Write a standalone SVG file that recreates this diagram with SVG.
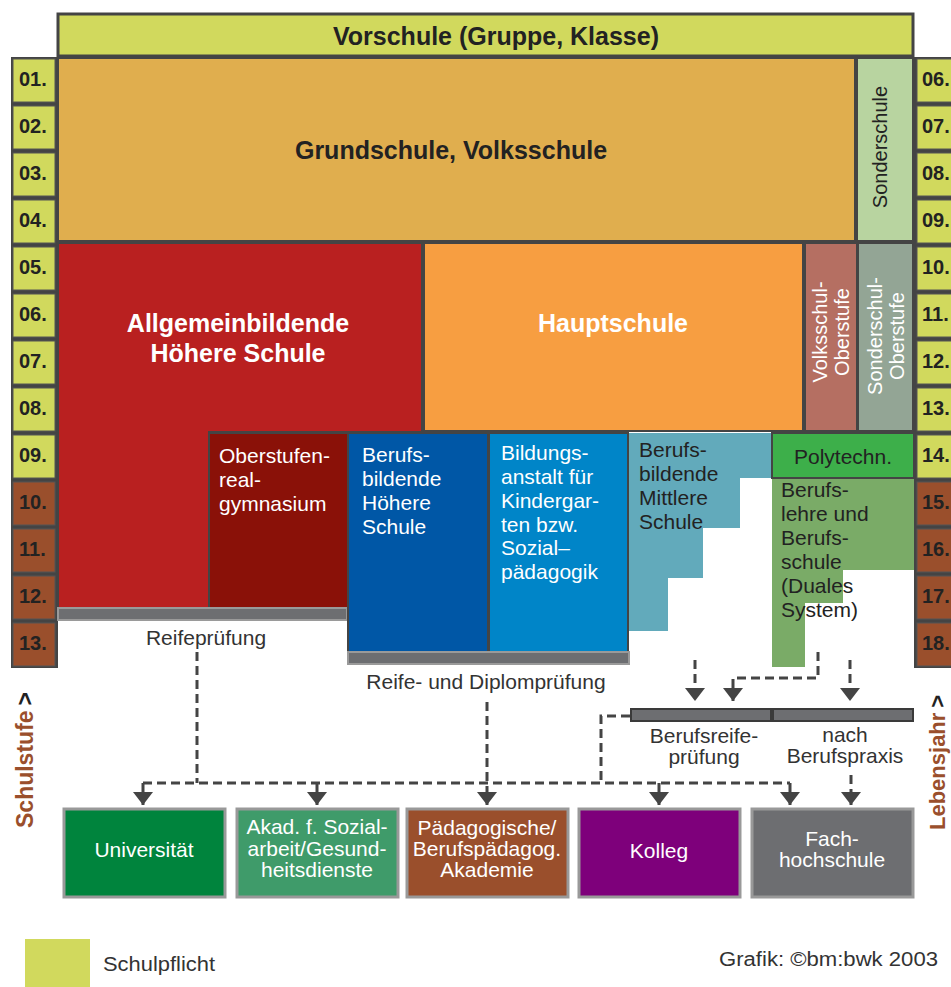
<svg xmlns="http://www.w3.org/2000/svg" width="951" height="987" viewBox="0 0 951 987">
<style>
text{font-family:"Liberation Sans",Arial,sans-serif}
.blk{stroke:#444;stroke-width:2}
.b{font-weight:bold}
.h{font-size:25px;font-weight:bold}
.w{fill:#fff}
.d{fill:#222}
.t{font-size:21px}
.num{font-size:20px;font-weight:bold;fill:#222}
.cy{fill:#d1d95d;stroke:#555;stroke-width:1}
.cb{fill:#9a4f2c;stroke:#555;stroke-width:1}
.bar{fill:#6d6e71;stroke:#9a9a9a;stroke-width:2}
.bar2{fill:#6d6e71;stroke:#3a3a3a;stroke-width:2}
.box{stroke:#999;stroke-width:3}
.c{fill:none;stroke:#444;stroke-width:3;stroke-dasharray:9 5}
.m{text-anchor:middle}
</style>
<defs>
<marker id="ah" viewBox="0 0 13 20" markerWidth="13" markerHeight="20" refX="13" refY="10" orient="auto" markerUnits="userSpaceOnUse">
<path d="M0,0 L13,10 L0,20 z" fill="#444"/>
</marker>
</defs>
<rect width="951" height="987" fill="#fff"/>

<g id="vorschule">
<rect x="58" y="14" width="855" height="42" fill="#d1d95d" stroke="#444" stroke-width="3"/>
<text x="496" y="45" class="h m d">Vorschule (Gruppe, Klasse)</text>
</g>

<g id="leftcol">
<rect x="11" y="57" width="47" height="611" fill="#444"/>
<rect x="13" y="59" width="42" height="43" class="cy"/><text x="19" y="86" class="num">01.</text>
<rect x="13" y="106" width="42" height="43" class="cy"/><text x="19" y="133" class="num">02.</text>
<rect x="13" y="153" width="42" height="43" class="cy"/><text x="19" y="180" class="num">03.</text>
<rect x="13" y="200" width="42" height="43" class="cy"/><text x="19" y="227" class="num">04.</text>
<rect x="13" y="247" width="42" height="43" class="cy"/><text x="19" y="274" class="num">05.</text>
<rect x="13" y="294" width="42" height="43" class="cy"/><text x="19" y="321" class="num">06.</text>
<rect x="13" y="341" width="42" height="43" class="cy"/><text x="19" y="368" class="num">07.</text>
<rect x="13" y="388" width="42" height="43" class="cy"/><text x="19" y="415" class="num">08.</text>
<rect x="13" y="435" width="42" height="43" class="cy"/><text x="19" y="462" class="num">09.</text>
<rect x="13" y="482" width="42" height="43" class="cb"/><text x="19" y="509" class="num">10.</text>
<rect x="13" y="529" width="42" height="43" class="cb"/><text x="19" y="556" class="num">11.</text>
<rect x="13" y="576" width="42" height="43" class="cb"/><text x="19" y="603" class="num">12.</text>
<rect x="13" y="623" width="42" height="43" class="cb"/><text x="19" y="650" class="num">13.</text>
</g>

<g id="rightcol">
<rect x="914" y="57" width="40" height="611" fill="#444"/>
<rect x="917" y="59" width="40" height="43" class="cy"/><text x="922" y="86" class="num">06.</text>
<rect x="917" y="106" width="40" height="43" class="cy"/><text x="922" y="133" class="num">07.</text>
<rect x="917" y="153" width="40" height="43" class="cy"/><text x="922" y="180" class="num">08.</text>
<rect x="917" y="200" width="40" height="43" class="cy"/><text x="922" y="227" class="num">09.</text>
<rect x="917" y="247" width="40" height="43" class="cy"/><text x="922" y="274" class="num">10.</text>
<rect x="917" y="294" width="40" height="43" class="cy"/><text x="922" y="321" class="num">11.</text>
<rect x="917" y="341" width="40" height="43" class="cy"/><text x="922" y="368" class="num">12.</text>
<rect x="917" y="388" width="40" height="43" class="cy"/><text x="922" y="415" class="num">13.</text>
<rect x="917" y="435" width="40" height="43" class="cy"/><text x="922" y="462" class="num">14.</text>
<rect x="917" y="482" width="40" height="43" class="cb"/><text x="922" y="509" class="num">15.</text>
<rect x="917" y="529" width="40" height="43" class="cb"/><text x="922" y="556" class="num">16.</text>
<rect x="917" y="576" width="40" height="43" class="cb"/><text x="922" y="603" class="num">17.</text>
<rect x="917" y="623" width="40" height="43" class="cb"/><text x="922" y="650" class="num">18.</text>
</g>

<g id="grundschule">
<rect x="58" y="58" width="797" height="183" fill="#e0ae4e" class="blk"/>
<text x="451" y="159" class="h m d">Grundschule, Volksschule</text>
</g>
<g id="sonderschule">
<rect x="857" y="58" width="56" height="183" fill="#b8d4a0" class="blk"/>
<text transform="translate(887,147) rotate(-90)" class="m d" font-size="20">Sonderschule</text>
</g>

<g id="ahs">
<path d="M58,243 H422 V432 H209 V608 H58 Z" fill="#b92020" class="blk"/>
<text x="238" y="332" class="h m w">Allgemeinbildende</text>
<text x="238" y="362" class="h m w">Höhere Schule</text>
</g>
<g id="hauptschule">
<rect x="424" y="243" width="379" height="188" fill="#f79e41" class="blk"/>
<text x="613" y="332" class="h m w">Hauptschule</text>
</g>
<g id="volksschul-oberstufe">
<rect x="805" y="243" width="52" height="188" fill="#b56f62" class="blk"/>
<text transform="translate(827,332) rotate(-90)" class="m w" font-size="20">Volksschul-</text>
<text transform="translate(849,332) rotate(-90)" class="m w" font-size="20">Oberstufe</text>
</g>
<g id="sonderschul-oberstufe">
<rect x="858" y="243" width="55" height="188" fill="#93a595" class="blk"/>
<text transform="translate(882,336) rotate(-90)" class="m w" font-size="20">Sonderschul-</text>
<text transform="translate(904,336) rotate(-90)" class="m w" font-size="20">Oberstufe</text>
</g>

<g id="oberstufenrealgymnasium">
<rect x="209" y="433" width="139" height="175" fill="#8a1108" class="blk"/>
<text class="t w"><tspan x="219" y="463">Oberstufen-</tspan><tspan x="219" y="487">real-</tspan><tspan x="219" y="511">gymnasium</tspan></text>
</g>
<g id="reifepruefung">
<rect x="58" y="608" width="289" height="12" class="bar"/>
<text x="206" y="645" class="t m" fill="#333">Reifeprüfung</text>
</g>

<g id="bhs">
<rect x="348" y="433" width="140" height="219" fill="#0057a6" class="blk"/>
<text class="t w"><tspan x="362" y="462">Berufs-</tspan><tspan x="362" y="486">bildende</tspan><tspan x="362" y="510">Höhere</tspan><tspan x="362" y="534">Schule</tspan></text>
</g>
<g id="bakip">
<rect x="489" y="433" width="139" height="219" fill="#0085c8" class="blk"/>
<text class="t w"><tspan x="501" y="460">Bildungs-</tspan><tspan x="501" y="484">anstalt für</tspan><tspan x="501" y="508">Kindergar-</tspan><tspan x="501" y="532">ten bzw.</tspan><tspan x="501" y="555">Sozial–</tspan><tspan x="501" y="579">pädagogik</tspan></text>
</g>
<g id="reife-diplom">
<rect x="348" y="652" width="281" height="12" class="bar"/>
<text x="486" y="689" class="t m" fill="#333">Reife- und Diplomprüfung</text>
</g>

<g id="bms">
<path d="M629,433 H772 V478 H740 V528 H703 V578 H668 V631 H629 Z" fill="#62aabb"/>
<text class="t d"><tspan x="639" y="457">Berufs-</tspan><tspan x="639" y="481">bildende</tspan><tspan x="639" y="505">Mittlere</tspan><tspan x="639" y="529">Schule</tspan></text>
</g>
<g id="polytechn">
<rect x="772" y="433" width="142" height="45" fill="#3daf4a" class="blk"/>
<text x="843" y="464" class="t m d">Polytechn.</text>
</g>
<g id="berufslehre">
<path d="M772,479 H914 V570 H843 V603 H805 V667 H772 Z" fill="#7aab67"/>
<text class="t d"><tspan x="781" y="497">Berufs-</tspan><tspan x="781" y="521">lehre und</tspan><tspan x="781" y="545">Berufs-</tspan><tspan x="781" y="569">schule</tspan><tspan x="781" y="593">(Duales</tspan><tspan x="781" y="617">System)</tspan></text>
</g>

<g id="berufsreifepruefung">
<rect x="631" y="709" width="140" height="12" class="bar2"/>
<text class="t m" fill="#333"><tspan x="704" y="743">Berufsreife-</tspan><tspan x="704" y="764">prüfung</tspan></text>
</g>
<g id="nach-berufspraxis">
<rect x="773" y="709" width="140" height="12" class="bar2"/>
<text class="t m" fill="#333"><tspan x="845" y="742">nach</tspan><tspan x="845" y="763">Berufspraxis</tspan></text>
</g>

<g id="connectors">
<path class="c" d="M197,652 V783"/>
<path class="c" d="M143,783 H790"/>
<path class="c" d="M630,716 H601 V783"/>
<path class="c" d="M143,783 V805" marker-end="url(#ah)"/>
<path class="c" d="M317,783 V805" marker-end="url(#ah)"/>
<path class="c" d="M487,702 V805" marker-end="url(#ah)"/>
<path class="c" d="M659,783 V805" marker-end="url(#ah)"/>
<path class="c" d="M790,783 V805" marker-end="url(#ah)"/>
<path class="c" d="M851,775 V805" marker-end="url(#ah)"/>
<path class="c" d="M695,660 V701" marker-end="url(#ah)"/>
<path class="c" d="M818,652 V678 H733 V701" marker-end="url(#ah)"/>
<path class="c" d="M850,660 V701" marker-end="url(#ah)"/>
</g>

<g id="universitaet">
<rect x="64" y="809" width="161" height="88" fill="#00843d" class="box"/>
<text x="144" y="857" class="t m w">Universität</text>
</g>
<g id="akademie-sozialarbeit">
<rect x="237" y="809" width="161" height="88" fill="#3f9b6a" class="box"/>
<text class="t m w"><tspan x="317" y="834">Akad. f. Sozial-</tspan><tspan x="317" y="856">arbeit/Gesund-</tspan><tspan x="317" y="877">heitsdienste</tspan></text>
</g>
<g id="paedagogische-akademie">
<rect x="407" y="809" width="161" height="88" fill="#9a4f2c" class="box"/>
<text class="t m w"><tspan x="487" y="835">Pädagogische/</tspan><tspan x="487" y="856">Berufspädagog.</tspan><tspan x="487" y="877">Akademie</tspan></text>
</g>
<g id="kolleg">
<rect x="579" y="809" width="161" height="88" fill="#7e007b" class="box"/>
<text x="659" y="858" class="t m w">Kolleg</text>
</g>
<g id="fachhochschule">
<rect x="752" y="809" width="161" height="88" fill="#6d6e71" class="box"/>
<text class="t m w"><tspan x="832" y="846">Fach-</tspan><tspan x="832" y="867">hochschule</tspan></text>
</g>

<g id="axis-labels">
<text transform="translate(33,828) rotate(-90)" font-size="23" font-weight="bold"><tspan fill="#9a4f2c">Schulstufe</tspan><tspan dx="5" fill="#222">&gt;</tspan></text>
<text transform="translate(945,830) rotate(-90)" font-size="22" font-weight="bold"><tspan fill="#9a4f2c">Lebensjahr</tspan><tspan dx="5" fill="#222">&gt;</tspan></text>
</g>

<g id="legend">
<rect x="25" y="939" width="65" height="48" fill="#d1d95d"/>
<text x="103" y="971" font-size="20" fill="#333" textLength="112" lengthAdjust="spacingAndGlyphs">Schulpflicht</text>
<text x="719" y="966" font-size="20" fill="#333" textLength="219" lengthAdjust="spacingAndGlyphs">Grafik: ©bm:bwk 2003</text>
</g>
</svg>
